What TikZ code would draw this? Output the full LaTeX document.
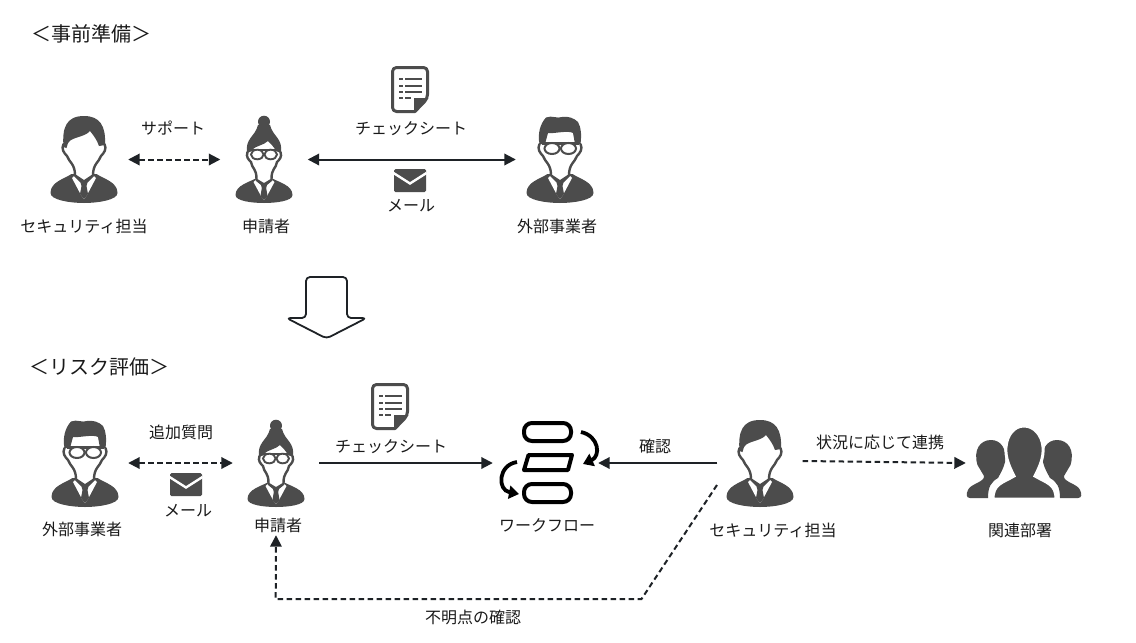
\documentclass[tikz,border=0pt]{standalone}
\usepackage{fontspec}
\usetikzlibrary{arrows.meta}
\newfontfamily\cjk{Noto Sans CJK JP}
\definecolor{icondark}{HTML}{4C4C4C}
\definecolor{linedark}{HTML}{1E2226}
\definecolor{textdark}{HTML}{1A1A1A}
\tikzset{
  label text/.style={font=\cjk\fontsize{16}{18}\selectfont,text=textdark,inner sep=0pt,yshift=-0.7pt},
  title text/.style={font=\cjk\fontsize{20}{22}\selectfont,text=textdark,inner sep=0pt,yshift=-1pt},
  hitbox/.style={draw=none,fill=none,inner sep=0pt,minimum height=144pt},
  conn/.style={draw=linedark,line width=2pt},
  dashconn/.style={conn,dash pattern=on 5.5pt off 3.5pt},
  tip/.style={-{Triangle[length=11.5pt,width=11.5pt]}},
  bothtip/.style={{Triangle[length=11.5pt,width=11.5pt]}-{Triangle[length=11.5pt,width=11.5pt]}},
  outline/.style={draw=icondark,line width=2.4pt,fill=none,line cap=round},
  flowpart/.style={draw=black,line width=4pt,fill=none},
  flowarrow/.style={draw=black,line width=3.8pt,-{Triangle[length=10pt,width=13pt]}}
}
% male torso, origin = top centre of the figure
\newcommand{\torsoMale}{%
  \fill[icondark] (-12.5,58) .. controls (-20,63) and (-33.5,66) .. (-33.5,77)
     .. controls (-33.5,84) and (-14,87) .. (0,87)
     .. controls (14,87) and (33.5,84) .. (33.5,77)
     .. controls (33.5,66) and (20,63) .. (12.5,58) -- cycle;
  \fill[white] (-9,52) -- (9,52) -- (9,59) -- (12,62) -- (3,79) -- (0,83) -- (-3,79) -- (-12,62) -- (-9,59) -- cycle;
  \fill[icondark] (-9,58) -- (0,64) -- (9,58) -- (10,60) -- (3.5,66.5) -- (2.5,70) -- (4,78) -- (0,83) -- (-4,78) -- (-2.5,70) -- (-3.5,66.5) -- (-10,60) -- cycle;
  \draw[outline] (-20.5,28) .. controls (-23,33) and (-20,37) .. (-17,40)
     .. controls (-15,46) and (-9,48) .. (-9,59);
  \draw[outline] (20.5,28) .. controls (23,33) and (20,37) .. (17,40)
     .. controls (15,46) and (9,48) .. (9,59);
}
\newcommand{\drawMan}{%
  \torsoMale
  \fill[icondark] (-20.5,31) .. controls (-22,12) and (-18,0) .. (0,0)
     .. controls (16,0) and (22,10) .. (21,29) -- (15,30)
     .. controls (13,24) and (10,20) .. (6,15)
     .. controls (2,20) and (-8,21) .. (-13,24)
     .. controls (-16,26) and (-17,29) .. (-17.5,32) -- cycle;
}
\newcommand{\drawGlassMan}{%
  \torsoMale
  \fill[icondark] (-20.5,28) .. controls (-22.5,18) and (-20,8) .. (-14,1.5)
     .. controls (-8,-1) and (-3,3) .. (2,1)
     .. controls (8,0) and (14,2) .. (18,6)
     .. controls (21.5,12) and (21.5,20) .. (20.5,28) -- (15,28) -- (13,17)
     .. controls (8,14) and (-7,18) .. (-12,17) -- (-15,28) -- cycle;
  \draw[icondark,line width=2.4pt] (-18,27.5) -- (19,27.5);
  \draw[icondark,line width=2pt,fill=white] (-8,32.5) ellipse [x radius=7.5,y radius=5.5];
  \draw[icondark,line width=2pt,fill=white] (8.5,32.5) ellipse [x radius=7.5,y radius=5.5];
}
\newcommand{\drawWoman}{%
  \fill[icondark] (-7.5,62) .. controls (-14,66) and (-28.5,69) .. (-28.5,79)
     .. controls (-28.5,85) and (-12,87) .. (0,87)
     .. controls (12,87) and (28.5,85) .. (28.5,79)
     .. controls (28.5,69) and (14,66) .. (7.5,62) -- cycle;
  \fill[white] (-7.5,56) -- (7.5,56) -- (7.5,63) -- (10.5,66) -- (3,80) -- (0,84) -- (-3,80) -- (-10.5,66) -- (-7.5,63) -- cycle;
  \fill[icondark] (-7.5,62.5) -- (0,67) -- (7.5,62.5) -- (8.5,64.5) -- (3,69) -- (2.2,72) -- (3.5,80) -- (0,84) -- (-3.5,80) -- (-2.2,72) -- (-3,69) -- (-8.5,64.5) -- cycle;
  \draw[outline] (-16.5,36) .. controls (-18.5,41) and (-15,44) .. (-13,46)
     .. controls (-12,53) and (-7.5,52) .. (-7.5,63);
  \draw[outline] (16.5,36) .. controls (18.5,41) and (15,44) .. (13,46)
     .. controls (12,53) and (7.5,52) .. (7.5,63);
  \fill[icondark] (0,5.7) circle [radius=6];
  \fill[icondark] (-17,37) .. controls (-19,22) and (-9,21) .. (-6,9)
     -- (6,9) .. controls (9,21) and (19,22) .. (17,37) -- (12,35)
     .. controls (10,31) and (7,28) .. (4,25)
     .. controls (0,29) and (-8,30) .. (-11,33) -- (-12,35) -- cycle;
  \draw[icondark,line width=2.2pt] (-14.5,34) -- (15,34);
  \draw[icondark,line width=1.9pt,fill=white] (-6.7,38.5) ellipse [x radius=6.3,y radius=4.8];
  \draw[icondark,line width=1.9pt,fill=white] (6.7,38.5) ellipse [x radius=6.3,y radius=4.8];
}
% document, origin = top-left corner, 38 x 47
\newcommand{\drawDoc}{%
  \draw[icondark,line width=3pt,line join=round,fill=white,rounded corners=4pt]
     (1.5,1.5) -- (36.5,1.5) -- (36.5,32.5) [sharp corners] -- (24,45.5) [rounded corners=4pt] -- (1.5,45.5) -- cycle;
  \fill[icondark] (23,46) -- (23,32) -- (37.5,32) -- cycle;
  \foreach \yy/\xx in {13/31,19.5/31,26/31,32/20}{
    \fill[icondark] (8,\yy-1) rectangle (12,\yy+1);
    \fill[icondark] (14,\yy-1) rectangle (\xx,\yy+1);
  }
}
% envelope, origin = top-left corner, 32 x 23
\newcommand{\drawEnvelope}{%
  \fill[icondark,rounded corners=1.5pt] (0,0) rectangle (32,23);
  \draw[white,line width=2.4pt] (-0.5,4) -- (16,14.5) -- (32.5,4);
}
\begin{document}
\begin{tikzpicture}[x=1pt,y=-1pt]
\useasboundingbox (0,0) rectangle (1136,643);
\fill[white] (0,0) rectangle (1136,643);

% --- anchors for connectors
\node[hitbox,minimum width=88pt] (secA) at (84,159.5) {};
\node[hitbox,minimum width=87pt] (appA) at (264,159.5) {};
\node[hitbox,minimum width=88pt] (extA) at (560,159.5) {};
\node[hitbox,minimum width=86pt] (extB) at (85,463) {};
\node[hitbox,minimum width=86pt] (appB) at (276,463) {};
\node[hitbox,minimum width=105pt] (flowB) at (545.5,463) {};
\node[hitbox,minimum width=85pt] (secB) at (760,463) {};
\node[hitbox,minimum width=116pt] (deptB) at (1024,463) {};
\coordinate (askstart) at (717,485);
\coordinate (askbend) at (641.5,599);
\coordinate (askturn) at (275.7,599);

% --- icons
\begin{scope}[shift={(84,116)}]\drawMan\end{scope}
\begin{scope}[shift={(264,116)}]\drawWoman\end{scope}
\begin{scope}[shift={(560,116)}]\drawGlassMan\end{scope}
\begin{scope}[shift={(85,420)}]\drawGlassMan\end{scope}
\begin{scope}[shift={(276,420)}]\drawWoman\end{scope}
\begin{scope}[shift={(760,420)}]\drawMan\end{scope}
\begin{scope}[shift={(391,66)}]\drawDoc\end{scope}
\begin{scope}[shift={(371,383)}]\drawDoc\end{scope}
\begin{scope}[shift={(394,169)}]\drawEnvelope\end{scope}
\begin{scope}[shift={(170,473)}]\drawEnvelope\end{scope}

% workflow icon
\draw[flowpart,rounded corners=8pt] (524,423) rectangle (571,441);
\draw[flowpart,line join=round] (528.5,455) -- (572,455) -- (568,470) -- (524,470) -- cycle;
\draw[flowpart,rounded corners=8pt] (524,484) rectangle (571,502);
\draw[flowarrow] (581,432) .. controls (599,436) and (601,456) .. (583,464);
\draw[flowarrow] (517,462) .. controls (498,465) and (497,490) .. (519,494);

% related departments icon
\fill[icondark] (977.5,465) .. controls (973,450) and (980,440) .. (991,440)
   .. controls (1001,440) and (1007,449) .. (1005,462)
   .. controls (1003,470) and (1000,474) .. (998,478)
   .. controls (991,482) and (988,487) .. (988,498) -- (970,498)
   .. controls (966,498) and (966,494) .. (968,490)
   .. controls (970,484) and (985,482) .. (984,476) -- cycle;
\fill[icondark] (1070.5,465) .. controls (1075,450) and (1068,440) .. (1057,440)
   .. controls (1047,440) and (1041,449) .. (1043,462)
   .. controls (1045,470) and (1048,474) .. (1050,478)
   .. controls (1057,482) and (1060,487) .. (1060,498) -- (1078,498)
   .. controls (1082,498) and (1082,494) .. (1080,490)
   .. controls (1078,484) and (1063,482) .. (1064,476) -- cycle;
\fill[white] (1002,480) rectangle (1046,499);
\draw[white,line width=3pt,fill=icondark] (993,499) .. controls (993,484) and (1002,483) .. (1014,476)
   .. controls (1010,468) and (1005,458) .. (1006,447)
   .. controls (1007,435) and (1014,426) .. (1024,426)
   .. controls (1034,426) and (1042,435) .. (1043,447)
   .. controls (1044,458) and (1039,468) .. (1035,476)
   .. controls (1047,483) and (1056,484) .. (1056,499) -- cycle;

% big down arrow
\draw[draw=linedark,line width=1.8pt,fill=white,rounded corners=4pt,line join=round]
  (306,318) -- (306,277) -- (347,277) -- (347,318) -- (366.5,318) -- (326.5,338.5) -- (286.5,318) -- cycle;

% --- connectors
\draw[dashconn,bothtip] (secA.east) -- (appA.west);
\draw[conn,bothtip] (appA.east) -- (extA.west);
\draw[dashconn,bothtip] (extB.east) -- (appB.west);
\draw[conn,tip] (appB.east) -- (flowB.west);
\draw[conn,tip] (secB.west) -- (flowB.east);
\draw[dashconn,tip] ([yshift=2pt]secB.east) -- (deptB.west);
\draw[dashconn,tip] (askstart) -- (askbend) -- (askturn) -- (appB.south);

% --- texts
\node[title text] (t1) at (91.5,33) {＜事前準備＞};
\node[title text] (t2) at (100,366) {＜リスク評価＞};
\node[label text] (n1) at (173,127) {サポート};
\node[label text] (n2) at (84,226) {セキュリティ担当};
\node[label text] (n3) at (266,226) {申請者};
\node[label text] (n4) at (411,128) {チェックシート};
\node[label text] (n5) at (411,205) {メール};
\node[label text] (n6) at (557,226) {外部事業者};
\node[label text] (n7) at (181,432) {追加質問};
\node[label text] (n8) at (188,510) {メール};
\node[label text] (n9) at (82,529) {外部事業者};
\node[label text] (n10) at (278,525) {申請者};
\node[label text] (n11) at (391,446) {チェックシート};
\node[label text] (n12) at (655,446) {確認};
\node[label text] (n13) at (547,525) {ワークフロー};
\node[label text] (n14) at (773,530) {セキュリティ担当};
\node[label text] (n15) at (880,442) {状況に応じて連携};
\node[label text] (n16) at (1020,530) {関連部署};
\node[label text] (n17) at (473,617) {不明点の確認};
\end{tikzpicture}
\end{document}
